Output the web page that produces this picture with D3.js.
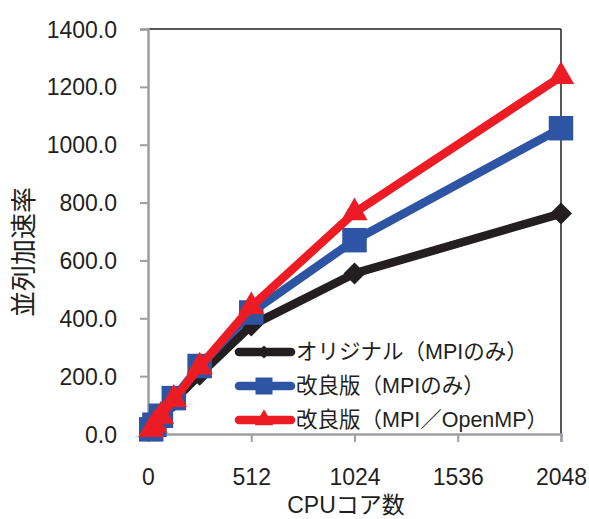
<!DOCTYPE html>
<html><head><meta charset="utf-8">
<script src="https://cdn.jsdelivr.net/npm/d3@7"></script>
<style>body{margin:0;background:#fff}svg{display:block}</style>
</head><body>
<script>
const cores = [1, 16, 32, 64, 128, 256, 512, 1024, 2048];
const originalMPI = [1, 16, 31, 61, 115, 205, 375, 555, 762];
const improvedMPI = [1, 16, 32, 63, 124, 235, 420, 670, 1057];
const improvedHybrid = [1, 16, 31, 62, 120, 232, 440, 765, 1236];
const seriesNames = ["オリジナル（MPIのみ）", "改良版（MPIのみ）", "改良版（MPI／OpenMP）"];
const xTicks = [0, 512, 1024, 1536, 2048];
const yTicks = [0, 200, 400, 600, 800, 1000, 1200, 1400];
const xTitle = "CPUコア数";
const yTitle = "並列加速率";

const W = 589, H = 519;
const m = {l: 148, r: 28, t: 29, b: 85};
const font = "'Liberation Sans','Noto Sans CJK JP',Arial,sans-serif";
const svg = d3.select("body").append("svg").attr("width", W).attr("height", H);
const x = d3.scaleLinear().domain([0, 2048]).range([m.l, W - m.r]);
const y = d3.scaleLinear().domain([0, 1400]).range([H - m.b, m.t]);

svg.append("line").attr("x1", x(0)).attr("x2", x(2048)).attr("y1", y(1400)).attr("y2", y(1400)).attr("stroke", "#231f20").attr("stroke-width", 1.5);
svg.append("line").attr("x1", x(2048)).attr("x2", x(2048)).attr("y1", y(1400)).attr("y2", y(0)).attr("stroke", "#231f20").attr("stroke-width", 1.5);

const yAxis = svg.append("g").attr("transform", `translate(${m.l},0)`)
  .call(d3.axisLeft(y).tickValues(yTicks).tickFormat(d3.format(".1f")).tickSize(8));
const xAxis = svg.append("g").attr("transform", `translate(0,${y(0)})`)
  .call(d3.axisBottom(x).tickValues(xTicks).tickFormat(d3.format("d")).tickSize(8));
[yAxis, xAxis].forEach(g => {
  g.select(".domain").attr("stroke", "#9d9fa2").attr("stroke-width", 2.5);
  g.selectAll(".tick line").attr("stroke", "#9d9fa2").attr("stroke-width", 2);
  g.selectAll("text").attr("fill", "#231f20").style("font-family", font).style("font-size", "23px");
});
xAxis.selectAll(".tick").filter(d => d === 0).select("line").remove();
xAxis.selectAll(".tick text").attr("dy", "0.35em").attr("y", 43);
yAxis.selectAll(".tick text").attr("x", -31).attr("dy", "0.35em");

svg.append("text").attr("x", 346).attr("y", 505).attr("text-anchor", "middle").attr("dominant-baseline", "central")
  .style("font-family", font).style("font-size", "23px").attr("fill", "#231f20").text(xTitle);
svg.append("text").attr("transform", "translate(24,252) rotate(-90)").attr("text-anchor", "middle").attr("dominant-baseline", "central")
  .style("font-family", font).style("font-size", "26px").attr("fill", "#231f20").text(yTitle);

const colors = ["#231f20", "#2e54a4", "#ed1c24"];
const symbols = [d3.symbolDiamond2, d3.symbolSquare, d3.symbolTriangle];
const sizes = [310, 600, 300];
const legendSizes = [110, 290, 150];
const data = [originalMPI, improvedMPI, improvedHybrid];
const line = d3.line().x(d => x(d[0])).y(d => y(d[1]));

function marker(g, i, cx, cy, s) {
  g.append("path").attr("d", d3.symbol().type(symbols[i]).size(s)()).attr("transform", `translate(${cx},${cy})`).attr("fill", colors[i]);
}

data.forEach((vals, i) => {
  const pts = cores.map((c, k) => [c, vals[k]]);
  const g = svg.append("g");
  g.append("path").attr("d", line(pts)).attr("fill", "none").attr("stroke", colors[i]).attr("stroke-width", 8.5).attr("stroke-linejoin", "round");
  pts.slice(1).forEach(p => marker(g, i, x(p[0]), y(p[1]), sizes[i]));
});

const ly = [352, 386, 420];
seriesNames.forEach((name, i) => {
  const g = svg.append("g");
  g.append("line").attr("x1", 239).attr("x2", 291).attr("y1", ly[i]).attr("y2", ly[i]).attr("stroke", colors[i]).attr("stroke-width", 8.5).attr("stroke-linecap", "round");
  marker(g, i, 264, ly[i], legendSizes[i]);
  g.append("text").attr("x", 296).attr("y", ly[i]).attr("dominant-baseline", "central").style("font-family", font).style("font-size", "21.5px").attr("fill", "#231f20").text(name);
});
</script>
</body></html>
